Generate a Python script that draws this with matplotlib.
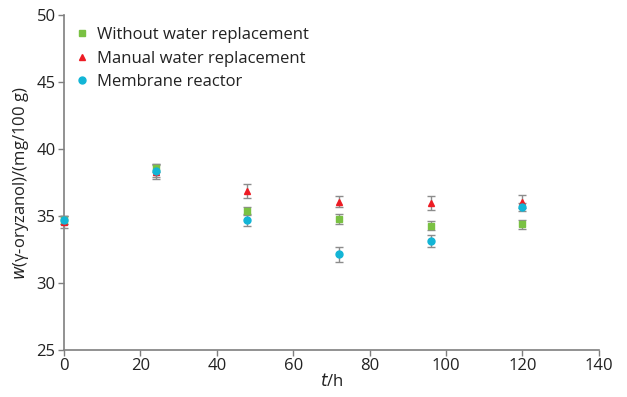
import matplotlib
matplotlib.use("Agg")
import matplotlib.pyplot as plt

plt.rcParams['font.family'] = ['Open Sans', 'DejaVu Sans']

# sampling times (h)
t = [0, 24, 48, 72, 96, 120]

# gamma-oryzanol content (mg/100 g) and error bars
without_water = [34.7, 38.6, 35.4, 34.8, 34.3, 34.4]
without_err = [0.3, 0.3, 0.3, 0.4, 0.35, 0.35]
manual_water = [34.6, 38.3, 36.9, 36.1, 36.0, 36.1]
manual_err = [0.45, 0.5, 0.5, 0.4, 0.55, 0.5]
membrane = [34.7, 38.4, 34.7, 32.15, 33.15, 35.7]
membrane_err = [0.3, 0.5, 0.45, 0.55, 0.45, 0.3]

labels = ["Without water replacement", "Manual water replacement", "Membrane reactor"]

fig = plt.figure(figsize=(6.27, 3.97), dpi=100)
ax = fig.add_axes([0.102, 0.118, 0.853, 0.843])

err_kw = dict(ecolor="#8c8c8c", elinewidth=1.0, capsize=3, capthick=1.0,
              linestyle="none", clip_on=False, zorder=3)
ax.errorbar(t, without_water, yerr=without_err, marker="s", ms=6.8, color="#7ac143",
            mec="#7ac143", label=labels[0], **err_kw)
ax.errorbar(t, manual_water, yerr=manual_err, marker="^", ms=7.5, color="#ed1c24",
            mec="#ed1c24", label=labels[1], **err_kw)
ax.errorbar(t, membrane, yerr=membrane_err, marker="o", ms=7, color="#12b5d6",
            mec="#12b5d6", label=labels[2], **err_kw)

ax.set_xlim(0, 140)
ax.set_ylim(25, 50)
ax.set_xticks(range(0, 141, 20))
ax.set_yticks(range(25, 51, 5))

for s in ["top", "right"]:
    ax.spines[s].set_visible(False)
for s in ["left", "bottom"]:
    ax.spines[s].set_color("#7f7f7f")
    ax.spines[s].set_linewidth(1.2)
ax.tick_params(colors="#7f7f7f", labelcolor="#222222", labelsize=12, length=4, width=1, pad=2)

ax.set_xlabel(r"$t$/h", fontsize=12, color="#222222", labelpad=-1)
ax.set_ylabel(r"$w$(γ-oryzanol)/(mg/100 g)", fontsize=12, color="#222222", labelpad=4)

handles, lbls = ax.get_legend_handles_labels()
handles = [h[0] for h in handles]
for h in handles:
    h.set_markersize(5)
ax.legend(handles, lbls, loc="upper left", bbox_to_anchor=(0.0, 1.0), frameon=False,
          fontsize=12, handlelength=0.8, handletextpad=0.5, labelspacing=0.45,
          borderaxespad=0.3, labelcolor="#222222")

fig.savefig("out.png", dpi=100)
